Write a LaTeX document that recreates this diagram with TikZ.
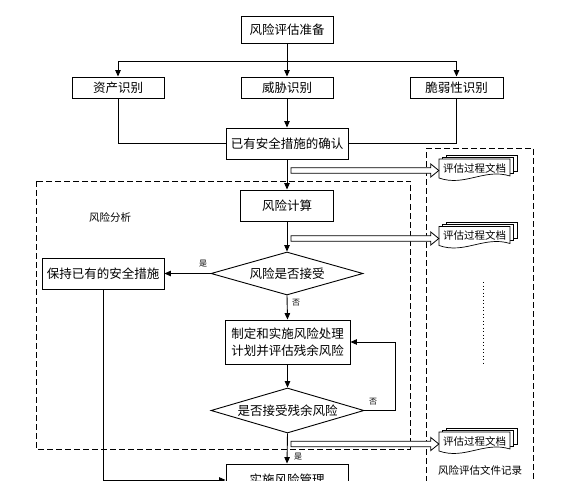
\documentclass[tikz,border=0pt]{standalone}
\usepackage{fontspec}
\newfontfamily\cjk{Noto Sans CJK SC}
\usetikzlibrary{arrows.meta,shapes.geometric,calc}

\newcommand\docstack[3]{%
  \foreach \d in {2,1} {
    \draw[doclayer] ({#2-35.5+3.5*\d},{#3-9-2*\d}) rectangle ({#2+35.5+3.5*\d},{#3+7-2*\d});
  }
  \draw[doclayer] ({#2-35.5},{#3-9}) -- ({#2+35.5},{#3-9}) -- ({#2+35.5},{#3+8})
     .. controls ({#2+10},{#3+0}) and ({#2-10},{#3+19}) .. ({#2-35.5},{#3+10}) -- cycle;
  \node[small, minimum width=71pt, minimum height=18pt, inner sep=0pt] (#1) at (#2,#3) {评估过程文档};
}
\newcommand\hollowarrow[2]{%
  \draw[line width=0.8pt, fill=white] let \p1=(#1), \p2=(#2.west) in
   (\x1,\y1+2.8pt) -- (\x2-8pt,\y1+2.8pt) -- (\x2-8pt,\y1+6.5pt) -- (\x2,\y1)
   -- (\x2-8pt,\y1-6.5pt) -- (\x2-8pt,\y1-2.8pt) -- (\x1,\y1-2.8pt) -- cycle;
}

\begin{document}
\begin{tikzpicture}[x=1pt,y=-1pt,
  every node/.style={font=\cjk\fontsize{12.5}{17}\selectfont},
  box/.style={draw, line width=0.9pt, inner sep=0pt, align=center},
  dia/.style={draw, diamond, line width=0.9pt, inner sep=0pt, aspect=3.5},
  conn/.style={line width=0.9pt},
  arr/.style={conn, -{Triangle[length=6.5pt,width=5.5pt]}},
  small/.style={font=\cjk\fontsize{10.5}{12}\selectfont},
  tiny/.style={font=\cjk\fontsize{8}{9}\selectfont},
  frame/.style={line width=0.9pt, dash pattern=on 6pt off 3pt},
  doclayer/.style={draw, fill=white, line width=0.7pt},
]
\fill[white] (0,0) rectangle (586,481);
\useasboundingbox (0,0) rectangle (586,481);
\clip (0,0) rectangle (586,481);

% frames
\draw[frame] (36,181) rectangle (410.5,449);
\draw[frame] (426.5,500) -- (426.5,148.5) -- (533.5,148.5) -- (533.5,500);

% nodes
\node[box, minimum width=92pt, minimum height=27pt] (prep) at (287,29.5) {风险评估准备};
\node[box, minimum width=92pt, minimum height=21pt] (asset) at (118,87.5) {资产识别};
\node[box, minimum width=92pt, minimum height=21pt] (threat) at (287,87.5) {威胁识别};
\node[box, minimum width=93pt, minimum height=21pt] (vuln) at (456.5,87.5) {脆弱性识别};
\node[box, minimum width=122pt, minimum height=31pt] (confirm) at (287,143.5) {已有安全措施的确认};
\node[box, minimum width=93pt, minimum height=31pt] (calc) at (287,205.5) {风险计算};
\node[dia, minimum width=152pt, minimum height=43pt] (accept) at (287,273.5) {风险是否接受};
\node[box, minimum width=122pt, minimum height=31pt] (keep) at (103,273.5) {保持已有的安全措施};
\node[box, minimum width=125pt, minimum height=44pt] (treat) at (287.5,342) {制定和实施风险处理\\计划并评估残余风险};
\node[dia, minimum width=153pt, minimum height=45pt] (resid) at (287.5,410.5) {是否接受残余风险};
\node[box, minimum width=122pt, minimum height=32pt] (impl) at (287,480) {实施风险管理};

% labels
\node[small] (ana) at (110,217) {风险分析};
\node[small] (rec) at (480,470) {风险评估文件记录};
\node[tiny] (yes1) at (203,264) {是};
\node[tiny] (no1) at (296,303) {否};
\node[tiny] (no2) at (373,402) {否};
\node[tiny] (yes2) at (298,457) {是};

% connectors
\coordinate (split) at (287,61);
\draw[arr] (prep.south) -- (threat.north);
\draw[arr] (split) -| (asset.north);
\draw[arr] (split) -| (vuln.north);
\draw[conn] (asset.south) |- (confirm.west);
\draw[conn] (vuln.south) |- (confirm.east);
\draw[arr] (threat.south) -- (confirm.north);
\draw[arr] (confirm.south) -- (calc.north);
\draw[arr] (calc.south) -- (accept.north);
\draw[arr] (accept.west) -- (keep.east);
\draw[arr] (accept.south) -- (treat.north);
\draw[arr] (treat.south) -- (resid.north);
\coordinate (loop) at (395,410.5);
\draw[arr] (resid.east) -- (loop) |- (treat.east);
\draw[arr] (resid.south) -- (impl.north);
\draw[arr] (keep.south) |- (impl.west);

% document stacks
\docstack{d1}{474.5}{168}
\docstack{d2}{474.5}{235.5}
\docstack{d3}{474.5}{441}

\coordinate (h1) at (291,170.5);
\coordinate (h2) at (291,238.5);
\coordinate (h3) at (291,444);
\hollowarrow{h1}{d1}
\hollowarrow{h2}{d2}
\hollowarrow{h3}{d3}

% dotted ellipsis
\coordinate (dots1) at (483,282);
\coordinate (dots2) at (483,365);
\draw[line width=1pt, dash pattern=on 1pt off 2.5pt] (dots1) -- (dots2);
\end{tikzpicture}
\end{document}
